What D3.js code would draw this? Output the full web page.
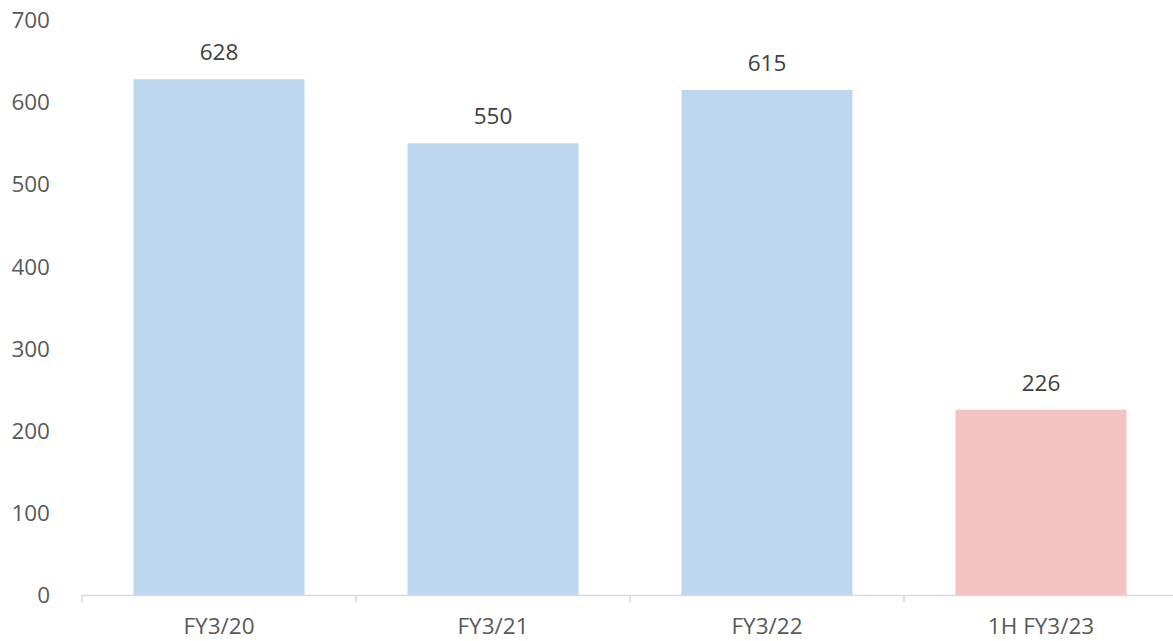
<!DOCTYPE html>
<html>
<head>
<meta charset="utf-8">
<script src="https://cdn.jsdelivr.net/npm/d3@7"></script>
<style>
  body { margin: 0; background: #fff; }
  svg { display: block; font-family: "Open Sans", "Noto Sans", sans-serif; }
</style>
</head>
<body>
<svg id="chart"></svg>
<script>
const categories = ['FY3/20', 'FY3/21', 'FY3/22', '1H FY3/23'];
const values = [628, 550, 615, 226];
const barColors = ['#BDD7EE', '#BDD7EE', '#BDD7EE', '#F4C2C0'];
const yTicks = [0, 100, 200, 300, 400, 500, 600, 700];

const width = 1173;
const height = 641;
const margin = { top: 20, right: -5, bottom: 45, left: 82 };

const svg = d3.select('#chart')
  .attr('width', width)
  .attr('height', height);

const x = d3.scaleBand()
  .domain(categories)
  .range([margin.left, width - margin.right])
  .paddingInner(0.376)
  .paddingOuter(0.188);

const y = d3.scaleLinear()
  .domain([0, 700])
  .range([height - margin.bottom - 0.5, margin.top]);

// y labels (no axis line)
svg.append('g')
  .selectAll('text')
  .data(yTicks)
  .enter()
  .append('text')
  .attr('x', 50)
  .attr('y', d => y(d))
  .attr('dy', '0.35em')
  .attr('text-anchor', 'end')
  .attr('fill', '#595959')
  .attr('font-size', 22.5)
  .text(d => d);

// bars
svg.selectAll('.bar')
  .data(values)
  .enter()
  .append('rect')
  .attr('class', 'bar')
  .attr('x', (d, i) => x(categories[i]))
  .attr('y', d => y(d))
  .attr('width', x.bandwidth())
  .attr('height', d => y(0) - y(d))
  .attr('fill', (d, i) => barColors[i]);

// value labels
svg.selectAll('.label')
  .data(values)
  .enter()
  .append('text')
  .attr('x', (d, i) => x(categories[i]) + x.bandwidth() / 2)
  .attr('y', d => y(d) - 27)
  .attr('dy', '0.35em')
  .attr('text-anchor', 'middle')
  .attr('fill', '#404040')
  .attr('font-size', 22.5)
  .text(d => d);

// x axis
const step = x.step();
const xAxis = svg.append('g');
xAxis.append('line')
  .attr('x1', margin.left)
  .attr('x2', width)
  .attr('y1', y(0))
  .attr('y2', y(0))
  .attr('stroke', '#D9D9D9')
  .attr('stroke-width', 1.5);

xAxis.selectAll('.tick')
  .data(d3.range(categories.length + 1))
  .enter()
  .append('line')
  .attr('x1', i => margin.left + i * step)
  .attr('x2', i => margin.left + i * step)
  .attr('y1', y(0))
  .attr('y2', y(0) + 7)
  .attr('stroke', '#D9D9D9')
  .attr('stroke-width', 1.5);

xAxis.selectAll('.cat')
  .data(categories)
  .enter()
  .append('text')
  .attr('x', d => x(d) + x.bandwidth() / 2)
  .attr('y', y(0) + 31)
  .attr('dy', '0.35em')
  .attr('text-anchor', 'middle')
  .attr('fill', '#595959')
  .attr('font-size', 22.5)
  .text(d => d);
</script>
</body>
</html>
